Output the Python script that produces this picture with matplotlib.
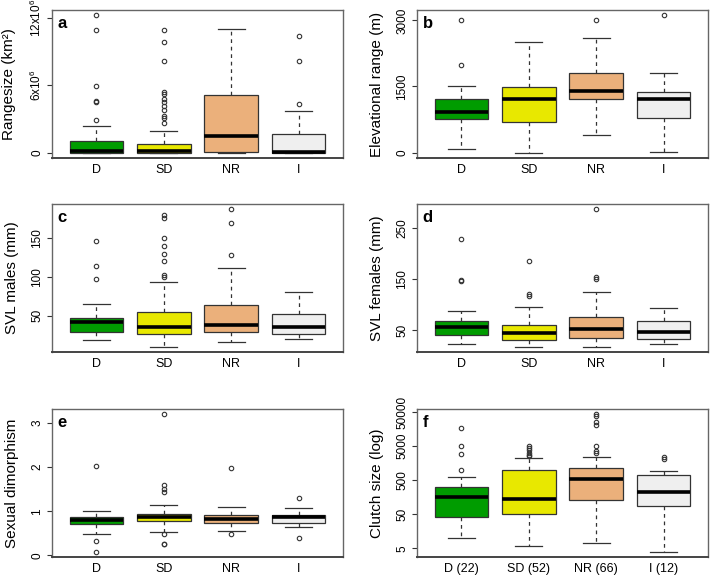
import numpy as np
import matplotlib
matplotlib.use("Agg")
import matplotlib.pyplot as plt

plt.rcParams['font.family'] = ['Liberation Sans', 'DejaVu Sans']
plt.rcParams['mathtext.fontset'] = 'custom'
plt.rcParams['mathtext.rm'] = 'Liberation Sans'

# ==========================================================
# DADOS: [whisker baixo, Q1, mediana, Q3, whisker alto]
# ==========================================================
grupos = ['D', 'SD', 'NR', 'I']
grupos_n = ['D (22)', 'SD (52)', 'NR (66)', 'I (12)']
cores = ['#009c00', '#e8e800', '#ebb07b', '#efefef']

# a - Rangesize (unidades de 1e6 km2)
range_stats = [[0, 0, 0.15, 1.04, 2.37],
               [0, 0, 0.10, 0.80, 1.93],
               [0, 0.03, 1.48, 5.16, 11.05],
               [0, 0, 0.06, 1.69, 3.70]]
range_out = [[2.9, 4.53, 4.6, 5.93, 10.9, 12.24],
             [2.6, 3.1, 3.3, 3.76, 4.15, 4.5, 4.74, 5.19, 5.42, 8.15, 9.87, 10.9],
             [],
             [4.3, 8.15, 10.43]]

# b - Elevational range (m)
elev_stats = [[75, 754, 927, 1221, 1500],
              [0, 701, 1220, 1492, 2500],
              [400, 1221, 1394, 1809, 2600],
              [23, 791, 1206, 1372, 1800]]
elev_out = [[1997, 3000], [], [3000], [3113]]

# c - SVL machos (mm)
svlm_stats = [[18.1, 29.3, 41.8, 46.6, 65.5],
              [9.9, 25.9, 35.3, 54.3, 94.0],
              [16.0, 28.4, 38.4, 64.2, 111.6],
              [19.0, 26.3, 34.9, 52.2, 80.6]]
svlm_out = [[97.4, 114.2, 146.1],
            [100, 102, 120.3, 130.2, 139.7, 150, 176.3, 179.7],
            [128, 170.3, 187.5],
            []]

# d - SVL femeas (mm)
svlf_stats = [[23.9, 40.2, 57.2, 68.9, 87.1],
              [18.1, 30.5, 44.1, 59.8, 95.6],
              [18.1, 34.4, 52.6, 76.7, 124.9],
              [23.3, 33.7, 46.7, 68.2, 93.6]]
svlf_out = [[145.8, 147.7, 228.5],
            [117.8, 121, 185.5],
            [150.3, 153.6, 287.1],
            []]

# e - Dimorfismo sexual
dimo_stats = [[0.48, 0.714, 0.797, 0.88, 1.0],
              [0.534, 0.774, 0.872, 0.947, 1.143],
              [0.556, 0.744, 0.827, 0.91, 1.105],
              [0.639, 0.729, 0.88, 0.917, 1.083]]
dimo_out = [[0.32, 0.09, 2.02],
            [0.496, 0.27, 0.25, 1.436, 1.5, 1.586, 3.195],
            [0.496, 1.985],
            [0.406, 1.293]]

# f - Clutch size (log)
clutch_stats = [[10, 41.8, 156, 313, 611],
                [6, 51.2, 137, 1000, 2237],
                [7, 131, 559, 1170, 2445],
                [4, 87.5, 219, 700, 914]]
clutch_out = [[1000, 2924, 5000, 17100],
              [2560, 2800, 3200, 3830, 4400, 5000],
              [3200, 3500, 5000, 20470, 25600, 37400, 42800],
              [2046, 2445]]

# ==========================================================
# FUNCAO DE BOXPLOT (estilo R)
# ==========================================================
def boxplot_r(ax, stats, outs, ylabel, letra, yticks, yticklabels, xlabels, log=False):
    bxp_stats = []
    for s, o in zip(stats, outs):
        bxp_stats.append({'whislo': s[0], 'q1': s[1], 'med': s[2], 'q3': s[3],
                          'whishi': s[4], 'fliers': o})
    pos = np.arange(1, len(stats) + 1)
    res = ax.bxp(bxp_stats, positions=pos, widths=0.8, capwidths=0.4,
                 patch_artist=True, showfliers=True,
                 boxprops=dict(edgecolor='#333333', linewidth=0.9),
                 whiskerprops=dict(color='#333333', linewidth=0.9, linestyle=(0, (3, 3))),
                 capprops=dict(color='#333333', linewidth=0.9),
                 medianprops=dict(color='black', linewidth=2.6, solid_capstyle='butt'),
                 flierprops=dict(marker='o', markerfacecolor='none', markeredgecolor='#333333',
                                 markersize=3.2, markeredgewidth=0.8))
    for patch, cor in zip(res['boxes'], cores):
        patch.set_facecolor(cor)

    # limites com 4% de margem (como no R)
    todos = [v for s in stats for v in s] + [v for o in outs for v in o]
    if log:
        ax.set_yscale('log')
        lo, hi = np.log10(min(todos)), np.log10(max(todos))
        r = hi - lo
        ax.set_ylim(10 ** (lo - 0.04 * r), 10 ** (hi + 0.04 * r))
        ax.yaxis.set_minor_locator(matplotlib.ticker.NullLocator())
    else:
        lo, hi = min(todos), max(todos)
        r = hi - lo
        ax.set_ylim(lo - 0.04 * r, hi + 0.04 * r)
    ax.set_xlim(0.34, 4.66)

    ax.set_yticks(yticks)
    ax.set_yticklabels(yticklabels, rotation=90, va='center', fontsize=8.5)
    ax.set_xticks(pos)
    ax.set_xticklabels(xlabels, fontsize=9)
    ax.tick_params(axis='x', length=0, pad=4)
    ax.tick_params(axis='y', length=3.6, width=0.8, color='#333333', pad=2.5)
    ax.set_ylabel(ylabel, fontsize=11, labelpad=9)

    for sp in ax.spines.values():
        sp.set_color('#666666')
        sp.set_linewidth(1)
    ax.spines['bottom'].set_color('#444444')
    ax.spines['bottom'].set_linewidth(1.4)

    ax.text(0.02, 0.91, letra, transform=ax.transAxes, fontsize=12,
            fontweight='bold', ha='left', va='center')


# ==========================================================
# FIGURA
# ==========================================================
fig = plt.figure(figsize=(7.1, 5.77), dpi=100)
W, H = 710, 577
larg, alt = 291, 148
esq = [52, 417]
topo = [10, 204, 409]

def eixo(x, y):
    return fig.add_axes([x / W, 1 - (y + alt) / H, larg / W, alt / H])

ax_a = eixo(esq[0], topo[0])
ax_b = eixo(esq[1], topo[0])
ax_c = eixo(esq[0], topo[1])
ax_d = eixo(esq[1], topo[1])
ax_e = eixo(esq[0], topo[2])
ax_f = eixo(esq[1], topo[2])

boxplot_r(ax_a, range_stats, range_out, 'Rangesize (km²)', 'a',
          [0, 6, 12], ['0', r'6x10$^{6}$', r'12x10$^{6}$'], grupos)
boxplot_r(ax_b, elev_stats, elev_out, 'Elevational range (m)', 'b',
          [0, 1500, 3000], ['0', '1500', '3000'], grupos)
boxplot_r(ax_c, svlm_stats, svlm_out, 'SVL males (mm)', 'c',
          [50, 100, 150], ['50', '100', '150'], grupos)
boxplot_r(ax_d, svlf_stats, svlf_out, 'SVL females (mm)', 'd',
          [50, 150, 250], ['50', '150', '250'], grupos)
boxplot_r(ax_e, dimo_stats, dimo_out, 'Sexual dimorphism', 'e',
          [0, 1, 2, 3], ['0', '1', '2', '3'], grupos)
boxplot_r(ax_f, clutch_stats, clutch_out, 'Clutch size (log)', 'f',
          [5, 50, 500, 5000, 50000], ['5', '50', '500', '5000', '50000'], grupos_n, log=True)

plt.savefig('out.png', dpi=100)
plt.close()
